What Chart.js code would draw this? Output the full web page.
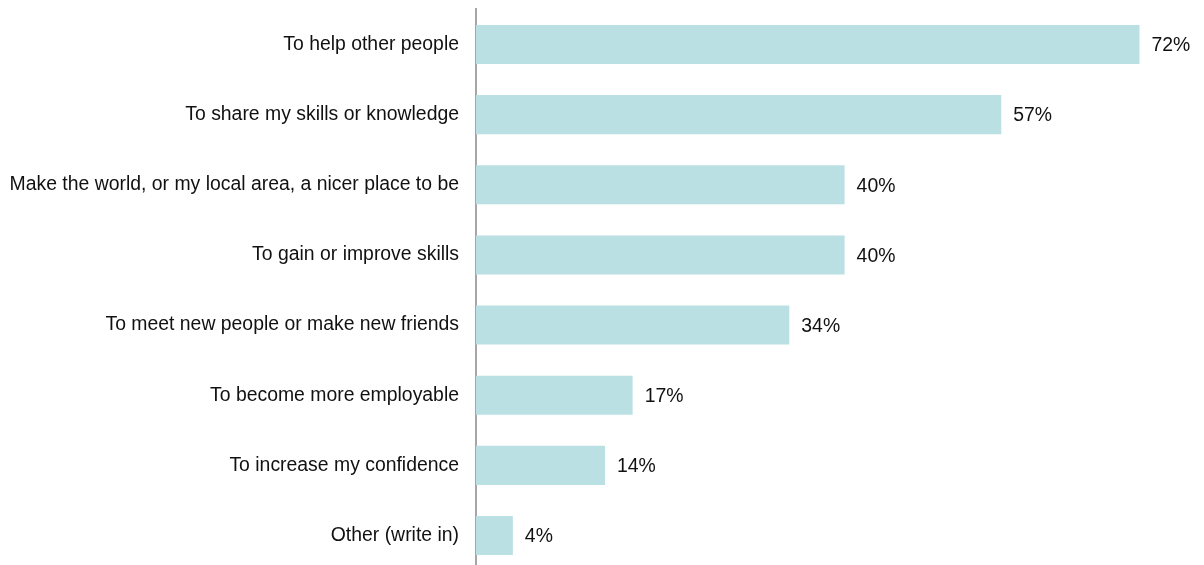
<!DOCTYPE html>
<html>
<head>
<meta charset="utf-8">
<script src="https://cdn.jsdelivr.net/npm/chart.js@4"></script>
<style>
  html, body { margin: 0; padding: 0; background: #fff; overflow: hidden; }
  #wrap { width: 1204px; height: 576px; position: relative; }
</style>
</head>
<body>
<div id="wrap"><canvas id="chart"></canvas></div>
<script>
// reasons for volunteering, % of respondents
const categories = [
  "To help other people",
  "To share my skills or knowledge",
  "Make the world, or my local area, a nicer place to be",
  "To gain or improve skills",
  "To meet new people or make new friends",
  "To become more employable",
  "To increase my confidence",
  "Other (write in)",
];
const values = [72, 57, 40, 40, 34, 17, 14, 4];

const FONT = "'Liberation Sans', Arial, sans-serif";

// writes the "72%" style labels at the end of each bar
const valueLabels = {
  id: "valueLabels",
  afterDatasetsDraw(chart) {
    const ctx = chart.ctx;
    const meta = chart.getDatasetMeta(0);
    ctx.save();
    ctx.font = "19.4px " + FONT;
    ctx.fillStyle = "#111";
    ctx.textAlign = "left";
    ctx.textBaseline = "middle";
    meta.data.forEach((bar, i) => {
      ctx.fillText(values[i] + "%", bar.x + 12, bar.y + 1.5);
    });
    ctx.restore();
  },
};

new Chart(document.getElementById("chart"), {
  type: "bar",
  data: {
    labels: categories,
    datasets: [{
      data: values,
      backgroundColor: "#bbe0e3",
      borderWidth: 0,
      barPercentage: 0.556,
      categoryPercentage: 1,
    }],
  },
  options: {
    indexAxis: "y",
    responsive: true,
    maintainAspectRatio: false,
    animation: false,
    layout: { padding: { top: 9.4, right: 0, bottom: 5.4, left: 0 } },
    plugins: { legend: { display: false }, tooltip: { enabled: false } },
    scales: {
      x: {
        min: 0,
        max: 79,
        display: false,
      },
      y: {
        grid: { display: false, drawTicks: false },
        border: { display: true, color: "#a6a6a6", width: 2 },
        ticks: {
          color: "#111",
          padding: 17,
          font: { family: FONT, size: 19.4 },
        },
        afterFit(scale) {
          scale.width = 476;
          scale.paddingTop = 0;
          scale.paddingBottom = 0;
        },
      },
    },
  },
  plugins: [valueLabels],
});
</script>
</body>
</html>
